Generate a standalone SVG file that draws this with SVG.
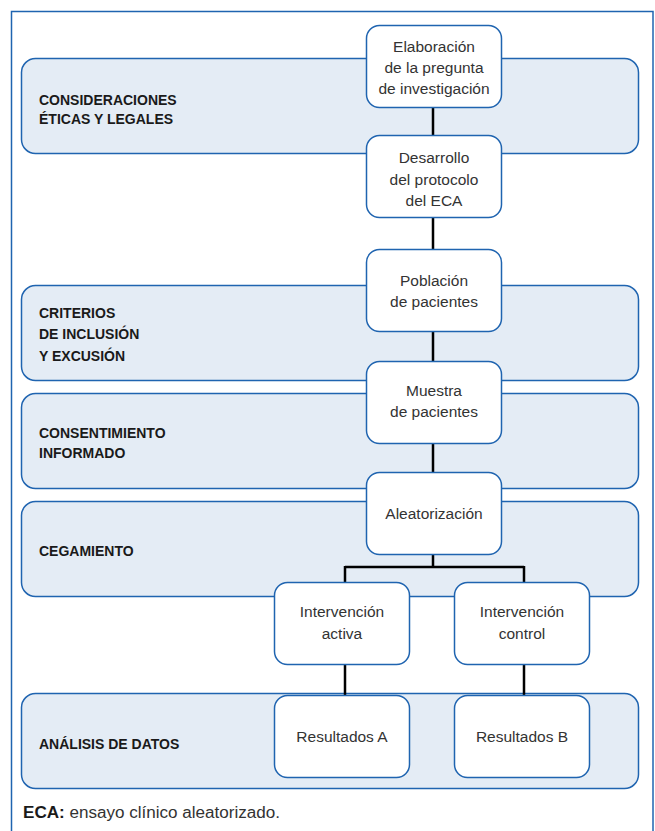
<svg xmlns="http://www.w3.org/2000/svg" width="655" height="831" viewBox="0 0 655 831">
<style>
.band{fill:#e4ecf5;stroke:#1f64b0;stroke-width:1.5}
.node{fill:#ffffff;stroke:#1f64b0;stroke-width:1.5}
.lbl{font-family:"Liberation Sans",Arial,sans-serif;font-size:14px;font-weight:bold;fill:#1a1a1a}
.nt{font-family:"Liberation Sans",Arial,sans-serif;font-size:15.5px;fill:#333333;text-anchor:middle}
.conn{stroke:#000000;stroke-width:2.5;fill:none}
</style>
<rect x="11.5" y="11.5" width="641.5" height="830" fill="#ffffff" stroke="#1f64b0" stroke-width="1.5"/>
<g id="band-eticas"><rect class="band" x="21.5" y="58.5" width="617" height="95" rx="14"/>
<text class="lbl" x="39" y="105">CONSIDERACIONES</text><text class="lbl" x="39" y="124">ÉTICAS Y LEGALES</text></g>
<g id="band-criterios"><rect class="band" x="21.5" y="285.5" width="617" height="95" rx="14"/>
<text class="lbl" x="39" y="318">CRITERIOS</text><text class="lbl" x="39" y="339">DE INCLUSIÓN</text><text class="lbl" x="39" y="361">Y EXCUSIÓN</text></g>
<g id="band-consentimiento"><rect class="band" x="21.5" y="393.5" width="617" height="95" rx="14"/>
<text class="lbl" x="39" y="438">CONSENTIMIENTO</text><text class="lbl" x="39" y="458">INFORMADO</text></g>
<g id="band-cegamiento"><rect class="band" x="21.5" y="501.5" width="617" height="95" rx="14"/>
<text class="lbl" x="39" y="556">CEGAMIENTO</text></g>
<g id="band-analisis"><rect class="band" x="21.5" y="693.5" width="617" height="95" rx="14"/>
<text class="lbl" x="39" y="749">ANÁLISIS DE DATOS</text></g>
<g id="connectors">
<path class="conn" d="M433 108V136M433 218V249M433 332V361M433 443V472M433 554V567M345 567H524M345 566V582M524 566V582M345 664V695M524 664V695"/>
</g>
<g id="n-elaboracion"><rect class="node" x="366.5" y="25.5" width="135" height="82" rx="13"/>
<text class="nt" x="434" y="52">Elaboración</text><text class="nt" x="434" y="73">de la pregunta</text><text class="nt" x="434" y="94">de investigación</text></g>
<g id="n-desarrollo"><rect class="node" x="366.5" y="135.5" width="135" height="82" rx="13"/>
<text class="nt" x="434" y="163">Desarrollo</text><text class="nt" x="434" y="185">del protocolo</text><text class="nt" x="434" y="206">del ECA</text></g>
<g id="n-poblacion"><rect class="node" x="366.5" y="249.5" width="135" height="82" rx="13"/>
<text class="nt" x="434" y="286">Población</text><text class="nt" x="434" y="307">de pacientes</text></g>
<g id="n-muestra"><rect class="node" x="366.5" y="361.5" width="135" height="82" rx="13"/>
<text class="nt" x="434" y="396">Muestra</text><text class="nt" x="434" y="417">de pacientes</text></g>
<g id="n-aleatorizacion"><rect class="node" x="366.5" y="472.5" width="135" height="82" rx="13"/>
<text class="nt" x="434" y="519">Aleatorización</text></g>
<g id="n-activa"><rect class="node" x="274.5" y="582.5" width="135" height="82" rx="13"/>
<text class="nt" x="342" y="617">Intervención</text><text class="nt" x="342" y="639">activa</text></g>
<g id="n-control"><rect class="node" x="454.5" y="582.5" width="135" height="82" rx="13"/>
<text class="nt" x="522" y="617">Intervención</text><text class="nt" x="522" y="639">control</text></g>
<g id="n-resA"><rect class="node" x="274.5" y="695.5" width="135" height="82" rx="13"/>
<text class="nt" x="342" y="742">Resultados A</text></g>
<g id="n-resB"><rect class="node" x="454.5" y="695.5" width="135" height="82" rx="13"/>
<text class="nt" x="522" y="742">Resultados B</text></g>
<text x="23" y="818" font-family="Liberation Sans, Arial, sans-serif" font-size="16" fill="#333333" textLength="257" lengthAdjust="spacingAndGlyphs"><tspan font-weight="bold" fill="#1a1a1a">ECA:</tspan> ensayo clínico aleatorizado.</text>
</svg>
